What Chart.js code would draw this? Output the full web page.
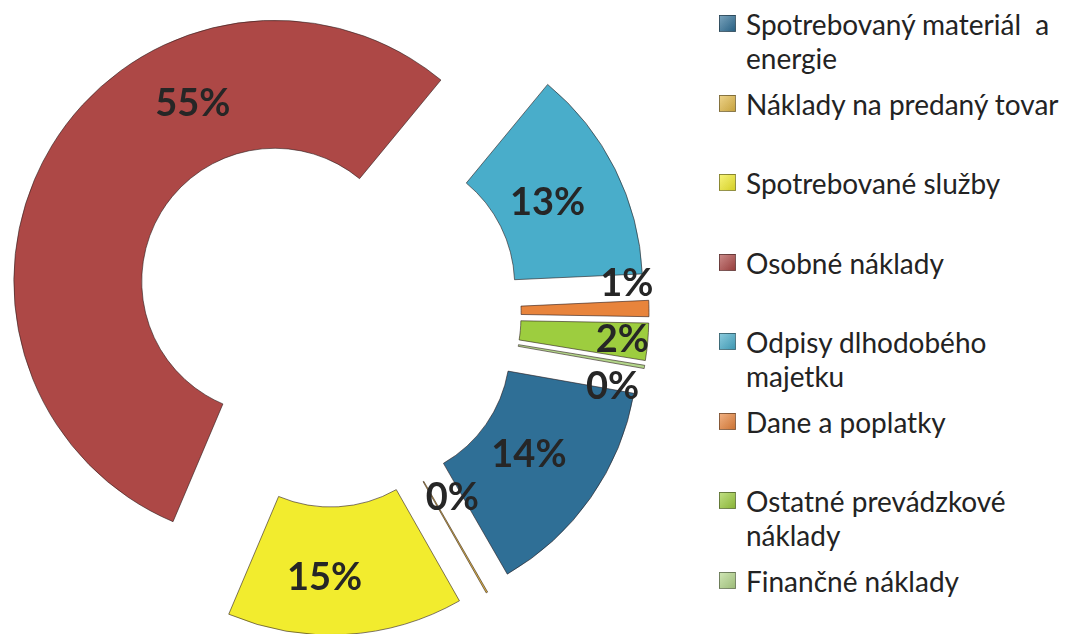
<!DOCTYPE html>
<html lang="sk">
<head>
<meta charset="utf-8">
<title>Štruktúra nákladov</title>
<script src="https://cdn.jsdelivr.net/npm/chart.js@4.4.1/dist/chart.umd.min.js"></script>
<style>
    html, body { margin: 0; padding: 0; background: #ffffff; }
    body { width: 1074px; height: 634px; position: relative; overflow: hidden; font-family: Lato, "Open Sans", sans-serif; }
    #chartBox { position: absolute; left: 0; top: 0; width: 654px; height: 634px; }
    #legend { position: absolute; left: 719px; top: 7px; margin: 0; padding: 0; list-style: none; }
    #legend li { position: relative; height: 79.5px; }
    #legend .box { position: absolute; left: 0; top: 8px; width: 17px; height: 17px; box-sizing: border-box; border: 1px solid rgba(40,40,40,0.45); }
    #legend .txt { position: absolute; left: 27px; top: 0; font-size: 28px; line-height: 34px; color: #232323; white-space: pre; }
</style>
</head>
<body>
<div id="chartBox"><canvas id="nakladyChart"></canvas></div>
<ul id="legend"></ul>

<script>
// --- Data ---
const categories = [
    ['Spotrebovaný materiál  a', 'energie'],
    'Náklady na predaný tovar',
    'Spotrebované služby',
    'Osobné náklady',
    ['Odpisy dlhodobého', 'majetku'],
    'Dane a poplatky',
    ['Ostatné prevádzkové', 'náklady'],
    'Finančné náklady'
];
const shares = [13.9, 0.1, 14.6, 54.6, 13.3, 1.0, 2.3, 0.2];

// --- Styles ---
const sliceColors = ['#2f6f96', '#e2b948', '#f2ec2e', '#ad4846', '#49adca', '#e8843c', '#9dcd3f', '#b3d68a'];
const explodeDistance = 61;
// label placement: angle turn (deg) and depth inside the ring (0 = inner edge, 1 = outer edge)
const labelTurn = [0, -6, 5, 34, 0, -6, 0, 6];
const labelDepth = [0.41, 0.23, 0.55, 0.49, 0.41, 0.84, 0.80, 0.79];

// every slice pushed out along its middle angle (like an exploded Excel doughnut)
const explodePlugin = {
    id: 'explode',
    beforeDatasetsDraw(chart) {
        chart.getDatasetMeta(0).data.forEach(function(arc) {
            if (arc._exploded) return;
            const draw = arc.draw;
            arc.draw = function(ctx) {
                const mid = (this.startAngle + this.endAngle) / 2;
                ctx.save();
                ctx.translate(Math.cos(mid) * explodeDistance, Math.sin(mid) * explodeDistance);
                draw.call(this, ctx);
                ctx.restore();
            };
            arc._exploded = true;
        });
    }
};

// percentage labels
const sliceLabels = {
    id: 'sliceLabels',
    afterDatasetsDraw(chart) {
        const ctx = chart.ctx;
        const total = shares.reduce((a, b) => a + b, 0);
        ctx.save();
        ctx.font = 'bold 38px Lato, "Open Sans", sans-serif';
        ctx.fillStyle = '#262626';
        ctx.textAlign = 'center';
        ctx.textBaseline = 'middle';
        chart.getDatasetMeta(0).data.forEach(function(arc, i) {
            const p = arc.getProps(['x', 'y', 'startAngle', 'endAngle', 'innerRadius', 'outerRadius'], true);
            const mid = (p.startAngle + p.endAngle) / 2;
            const a = mid + labelTurn[i] * Math.PI / 180;
            const r = p.innerRadius + (p.outerRadius - p.innerRadius) * labelDepth[i];
            const px = p.x + Math.cos(mid) * explodeDistance + Math.cos(a) * r;
            const py = p.y + Math.sin(mid) * explodeDistance + Math.sin(a) * r;
            ctx.fillText(Math.round(shares[i] / total * 100) + '%', px, py);
        });
        ctx.restore();
    }
};

const chart = new Chart(document.getElementById('nakladyChart'), {
    type: 'doughnut',
    data: {
        labels: categories,
        datasets: [{
            data: shares,
            backgroundColor: sliceColors,
            borderColor: 'rgba(45,30,30,0.6)',
            borderWidth: 1
        }]
    },
    options: {
        responsive: true,
        maintainAspectRatio: false,
        animation: false,
        rotation: 100,
        radius: 261,
        cutout: '51%',
        layout: { padding: { bottom: 8 } },
        plugins: {
            legend: { display: false },
            tooltip: { enabled: false }
        }
    },
    plugins: [explodePlugin, sliceLabels]
});

// --- HTML legend from the chart's own legend items ---
const legendEl = document.getElementById('legend');
chart.options.plugins.legend.labels.generateLabels(chart).forEach(function(item, i) {
    const li = document.createElement('li');
    const box = document.createElement('span');
    box.className = 'box';
    box.style.background = 'linear-gradient(135deg, rgba(255,255,255,0.35), rgba(0,0,0,0.12)), ' + sliceColors[i];
    const txt = document.createElement('span');
    txt.className = 'txt';
    const label = categories[i];
    txt.textContent = Array.isArray(label) ? label.join('\n') : label;
    li.appendChild(box);
    li.appendChild(txt);
    legendEl.appendChild(li);
});
</script>
</body>
</html>
